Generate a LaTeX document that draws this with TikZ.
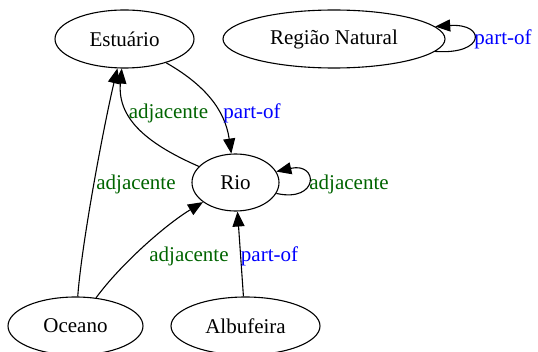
\documentclass[tikz,border=0pt]{standalone}
\usepackage{fontspec}
\setmainfont{Liberation Serif}
\usetikzlibrary{shapes.geometric,arrows.meta}
\definecolor{adjgreen}{HTML}{006400}
\definecolor{partblue}{HTML}{0000FF}
\tikzset{
  concept/.style={ellipse,draw,line width=1.1pt,inner sep=0pt,minimum height=58pt,
    font=\fontsize{21}{25}\selectfont},
  rel/.style={line width=1.1pt,-{Triangle[length=15pt,width=12pt]}},
  adjlbl/.style={anchor=base,inner sep=0pt,text=adjgreen,font=\fontsize{21}{25}\selectfont},
  partlbl/.style={anchor=base,inner sep=0pt,text=partblue,font=\fontsize{21}{25}\selectfont}
}

\begin{document}
\begin{tikzpicture}[x=1pt,y=1pt]
\useasboundingbox (0,0) rectangle (538,351);
\node[concept,minimum width=139pt] (est) at (124.5,312) {Estuário};
\node[concept,minimum width=222pt] (reg) at (334,312) {Região Natural};
\node[concept,minimum width=87pt,minimum height=57pt] (rio) at (235.5,168.5) {Rio};
\node[concept,minimum width=135pt] (oce) at (75.5,25) {Oceano};
\node[concept,minimum width=149pt] (alb) at (245.5,25) {Albufeira};
\draw[rel] (est) .. controls (205,266) and (225,241) .. (rio);
\draw[rel] (rio) .. controls (150,206) and (117,231) .. (est);
\draw[rel] (oce) .. controls (82,111) and (105,231) .. (est);
\draw[rel] (oce) .. controls (120,86) and (165,126) .. (rio);
\draw[rel] (alb) -- (rio);
\draw[rel] (rio.-15) .. controls (319,148) and (319,189) .. (rio.15);
\draw[rel] (reg.-7) .. controls (486,296) and (486,328) .. (reg.7);
\node[adjlbl] (adj1) at (168.5,232.7) {adjacente};
\node[partlbl] (po1) at (252,232.7) {part-of};
\node[adjlbl] (adj2) at (136,161) {adjacente};
\node[adjlbl] (adj3) at (189,89) {adjacente};
\node[partlbl] (po2) at (269.5,89) {part-of};
\node[adjlbl] (adj4) at (349,161) {adjacente};
\node[partlbl] (po3) at (503,306) {part-of};
\end{tikzpicture}
\end{document}
